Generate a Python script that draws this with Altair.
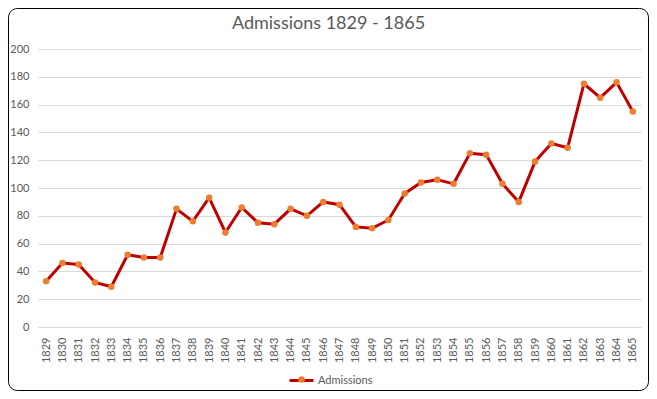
import altair as alt
import pandas as pd

years = ["1829", "1830", "1831", "1832", "1833", "1834", "1835", "1836", "1837", "1838",
         "1839", "1840", "1841", "1842", "1843", "1844", "1845", "1846", "1847", "1848",
         "1849", "1850", "1851", "1852", "1853", "1854", "1855", "1856", "1857", "1858",
         "1859", "1860", "1861", "1862", "1863", "1864", "1865"]
admissions = [33, 46, 45, 32, 29, 52, 50, 50, 85, 76,
              93, 68, 86, 75, 74, 85, 80, 90, 88, 72,
              71, 77, 96, 104, 106, 103, 125, 124, 103, 90,
              119, 132, 129, 175, 165, 176, 155]
series = ["Admissions"] * len(years)
y_ticks = [0, 20, 40, 60, 80, 100, 120, 140, 160, 180, 200]

FONT = "Lato"
GREY = "#595959"
LINE = "#C00000"
DOT = "#ED7D31"

df = pd.DataFrame({"Year": years, "Admissions": admissions, "Series": series})

x = alt.X("Year:O", sort=None, scale=alt.Scale(type="point", padding=0.5),
          axis=alt.Axis(title=None, labelAngle=270, labelPadding=10, ticks=False,
                        domain=False, grid=False, labelFontSize=11, labelColor=GREY,
                        labelFont=FONT))
y = alt.Y("Admissions:Q", scale=alt.Scale(domain=[0, 200], nice=False),
          axis=alt.Axis(title=None, values=y_ticks, ticks=False, domain=False,
                        grid=True, gridColor="#d9d9d9", gridWidth=1,
                        labelFontSize=11, labelColor=GREY, labelFont=FONT,
                        labelPadding=9))

base = alt.Chart(df)

line = base.mark_line(strokeWidth=3).encode(
    x=x, y=y,
    stroke=alt.Stroke("Series:N", scale=alt.Scale(range=[LINE]),
                      legend=alt.Legend(title=None, orient="none", legendX=250, legendY=318,
                                        symbolType="stroke", symbolSize=576,
                                        symbolStrokeWidth=3, labelFontSize=11,
                                        labelFont=FONT, labelColor=GREY, padding=0,
                                        labelOffset=3)),
)

points = base.mark_point(filled=True, size=42, opacity=1).encode(
    x=x, y=y,
    fill=alt.Fill("Series:N", scale=alt.Scale(range=[DOT]),
                  legend=alt.Legend(title=None, orient="none", legendX=258, legendY=325,
                                    symbolType="circle", symbolSize=42,
                                    symbolStrokeWidth=0, labelExpr="''",
                                    labelFontSize=11, padding=0)),
)

border = alt.Chart(pd.DataFrame({"b": [0]})).mark_rect(
    filled=False, stroke="#000000", strokeWidth=1, cornerRadius=9
).encode(x=alt.value(-29.5), x2=alt.value(610.5), y=alt.value(-40.5), y2=alt.value(341.5))

chart = alt.layer(border, line, points).properties(
    width=603, height=278, padding=0,
    title=alt.Title("Admissions 1829 - 1865", fontSize=18, font=FONT, color=GREY,
                    fontWeight="normal", anchor="middle", frame="bounds", offset=-25),
).resolve_scale(stroke="independent", fill="independent").configure_view(stroke=None)

chart.save("out.html", embed_options={"renderer": "svg", "actions": False})
